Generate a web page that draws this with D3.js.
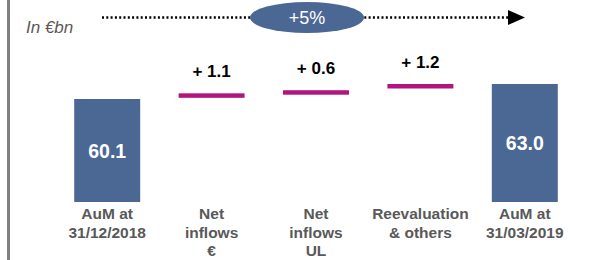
<html>
  <head>
    <script src="https://d3js.org/d3.v7.min.js"></script>
  </head>
  <body style="margin:0">
    <svg id="chart" width="610" height="260"></svg>
    <script>
      // data
      const categories = [["AuM at", "31/12/2018"], ["Net", "inflows", "€"], ["Net", "inflows", "UL"], ["Reevaluation", "& others"], ["AuM at", "31/03/2019"]];
      const startValue = 60.1;
      const stepValues = [1.1, 0.6, 1.2];
      const endValue = 63.0;
      const growthLabel = "+5%";
      const unitLabel = "In €bn";

      const svg = d3.select('svg#chart');
      const blue = '#4b6894';
      const magenta = '#b2167e';
      const grey = '#595959';

      // left border line
      svg.append('line')
        .attr('x1', 8.5).attr('x2', 8.5).attr('y1', 0).attr('y2', 260)
        .attr('stroke', '#7f7f7f').attr('stroke-width', 3);

      const xScale = d3.scaleBand()
        .domain(d3.range(categories.length))
        .range([55, 577])
        .paddingInner(0.368)
        .paddingOuter(0.184);

      // broken (non zero) axis as in the original slide
      const yScale = d3.scaleLinear().domain([40.2, 63.0]).range([202, 84]);

      // running totals for the waterfall steps
      let running = startValue;
      const steps = stepValues.map((v, i) => {
        running += v;
        return {i: i + 1, value: v, total: running};
      });

      // start and end bars
      const bars = [{i: 0, value: startValue}, {i: 4, value: endValue}];
      svg.selectAll('rect.bar').data(bars).join('rect')
        .attr('class', 'bar')
        .attr('x', d => xScale(d.i))
        .attr('width', xScale.bandwidth())
        .attr('y', d => yScale(d.value))
        .attr('height', d => yScale.range()[0] - yScale(d.value))
        .attr('fill', blue);

      svg.selectAll('text.barlabel').data(bars).join('text')
        .attr('class', 'barlabel')
        .attr('x', d => xScale(d.i) + xScale.bandwidth() / 2)
        .attr('y', d => (yScale(d.value) + yScale.range()[0]) / 2 + 7)
        .attr('text-anchor', 'middle')
        .attr('font-family', 'Liberation Sans, Arial, sans-serif')
        .attr('font-weight', 'bold')
        .attr('font-size', '19.5px')
        .attr('fill', 'white')
        .text(d => d3.format('.1f')(d.value));

      // step markers
      svg.selectAll('rect.step').data(steps).join('rect')
        .attr('class', 'step')
        .attr('x', d => xScale(d.i))
        .attr('width', xScale.bandwidth())
        .attr('y', d => yScale(d.total))
        .attr('height', 4.5)
        .attr('fill', magenta);

      svg.selectAll('text.steplabel').data(steps).join('text')
        .attr('class', 'steplabel')
        .attr('x', d => xScale(d.i) + xScale.bandwidth() / 2)
        .attr('y', d => yScale(d.total) - 16)
        .attr('text-anchor', 'middle')
        .attr('font-family', 'Liberation Sans, Arial, sans-serif')
        .attr('font-weight', 'bold')
        .attr('font-size', '17px')
        .attr('fill', 'black')
        .text(d => '+ ' + d3.format('.1f')(d.value));

      // category labels
      const catText = svg.selectAll('text.cat').data(categories).join('text')
        .attr('class', 'cat')
        .attr('text-anchor', 'middle')
        .attr('font-family', 'Liberation Sans, Arial, sans-serif')
        .attr('font-weight', 'bold')
        .attr('font-size', '15.5px')
        .attr('fill', grey);
      catText.each(function(lines, i) {
        d3.select(this).selectAll('tspan').data(lines).join('tspan')
          .attr('x', xScale(i) + xScale.bandwidth() / 2)
          .attr('y', (d, j) => 219 + j * 18.5)
          .text(d => d);
      });

      // unit label
      svg.append('text')
        .attr('x', 26).attr('y', 33)
        .attr('font-family', 'Liberation Sans, Arial, sans-serif')
        .attr('font-style', 'italic')
        .attr('font-size', '17px')
        .attr('fill', grey)
        .text(unitLabel);

      // growth arrow
      svg.append('line')
        .attr('x1', 102).attr('x2', 508).attr('y1', 17.5).attr('y2', 17.5)
        .attr('stroke', 'black').attr('stroke-width', 2.5)
        .attr('stroke-dasharray', '2,2.3');
      svg.append('path')
        .attr('d', 'M508,10 L525,17.5 L508,25 Z')
        .attr('fill', 'black');
      svg.append('ellipse')
        .attr('cx', 307).attr('cy', 17.5).attr('rx', 57).attr('ry', 15.5)
        .attr('fill', blue);
      svg.append('text')
        .attr('x', 307).attr('y', 24)
        .attr('text-anchor', 'middle')
        .attr('font-family', 'Liberation Sans, Arial, sans-serif')
        .attr('font-size', '18px')
        .attr('fill', 'white')
        .text(growthLabel);
    </script>
  </body>
</html>
